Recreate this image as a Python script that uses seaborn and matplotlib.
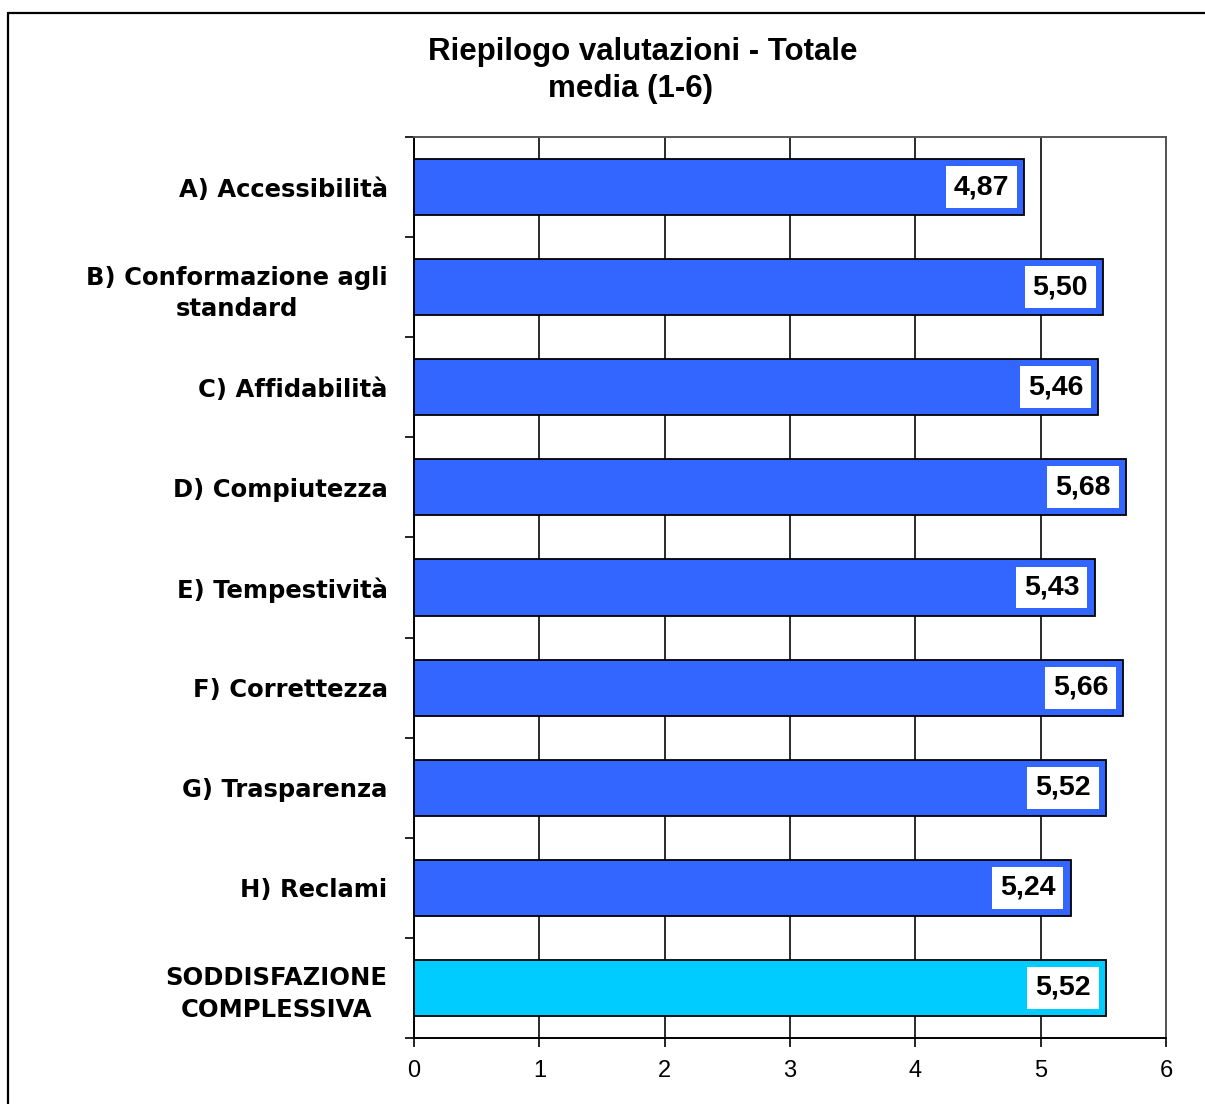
import matplotlib
matplotlib.use("Agg")
import matplotlib.pyplot as plt
from matplotlib.lines import Line2D
import seaborn as sns
import pandas as pd

categories = [
    "A) Accessibilità",
    "B) Conformazione agli\nstandard",
    "C) Affidabilità",
    "D) Compiutezza",
    "E) Tempestività",
    "F) Correttezza",
    "G) Trasparenza",
    "H) Reclami",
    "SODDISFAZIONE\nCOMPLESSIVA",
]
values = [4.87, 5.50, 5.46, 5.68, 5.43, 5.66, 5.52, 5.24, 5.52]
bar_colors = ["#3366FF"] * 8 + ["#00CCFF"]
xticks = [0, 1, 2, 3, 4, 5, 6]
title_line1 = "Riepilogo valutazioni - Totale"
title_line2 = "media (1-6)"

sns.set_style("white")
plt.rcParams["font.family"] = ["Liberation Sans", "DejaVu Sans"]
plt.rcParams["text.color"] = "black"
plt.rcParams["xtick.color"] = "black"
plt.rcParams["ytick.color"] = "black"
plt.rcParams["xtick.labelcolor"] = "black"
plt.rcParams["ytick.labelcolor"] = "black"

df = pd.DataFrame({"cat": categories, "val": values})

W, H = 1205, 1104
fig = plt.figure(figsize=(W / 100, H / 100), dpi=100)
ax = fig.add_axes([414 / W, 1 - 1038 / H, (1166 - 414) / W, (1038 - 137) / H])

sns.barplot(data=df, x="val", y="cat", hue="cat", palette=bar_colors, legend=False,
            orient="h", width=0.56, saturation=1, edgecolor="black", linewidth=1.3,
            ax=ax, zorder=3)

ax.set_xlim(0, 6)
ax.set_ylim(len(categories) - 0.5, -0.5)
ax.set_xticks(xticks)
ax.set_xticklabels([str(t) for t in xticks], fontsize=17)
ax.set_xlabel("")
ax.set_ylabel("")
ax.set_axisbelow(True)
ax.xaxis.grid(True, color="#1a1a1a", linewidth=1.3, zorder=0)
ax.yaxis.grid(False)

# y tick boundaries
ax.set_yticks([i + 0.5 for i in range(-1, len(categories))], minor=True)
ax.tick_params(axis="y", which="minor", length=6.5, width=1.2, color="black", direction="out", left=True)
ax.tick_params(axis="y", which="major", length=0, pad=19)
ax.tick_params(axis="x", which="major", length=6.5, width=1.2, color="black", direction="out", bottom=True, pad=9)
for lab in ax.get_yticklabels():
    lab.set_fontfamily(["DejaVu Sans"])
    lab.set_fontsize(17.5)
    lab.set_fontweight("bold")
    lab.set_multialignment("center")
    lab.set_linespacing(1.4)

for side in ["left", "bottom"]:
    ax.spines[side].set_color("black")
    ax.spines[side].set_linewidth(1.4)
for side in ["top", "right"]:
    ax.spines[side].set_color("#555555")
    ax.spines[side].set_linewidth(1.4)

for i, v in enumerate(values):
    ax.annotate(f"{v:.2f}".replace(".", ","), xy=(v, i), xytext=(-11, 0), textcoords="offset points",
                ha="right", va="center", fontsize=20.5, fontweight="bold", zorder=5,
                bbox=dict(boxstyle="square,pad=0.28", fc="white", ec="none"))

fig.text(643 / W, 1 - 52 / H, title_line1, ha="center", va="center", fontsize=22.5, fontweight="bold")
fig.text(630 / W, 1 - 89 / H, title_line2, ha="center", va="center", fontsize=22.5, fontweight="bold")

# outer frame (top and left)
fig.add_artist(Line2D([8 / W, 1.0], [1 - 13 / H, 1 - 13 / H], color="black", lw=1.6, transform=fig.transFigure))
fig.add_artist(Line2D([8 / W, 8 / W], [1 - 13 / H, 0], color="black", lw=1.6, transform=fig.transFigure))

fig.savefig("out.png", dpi=100)
